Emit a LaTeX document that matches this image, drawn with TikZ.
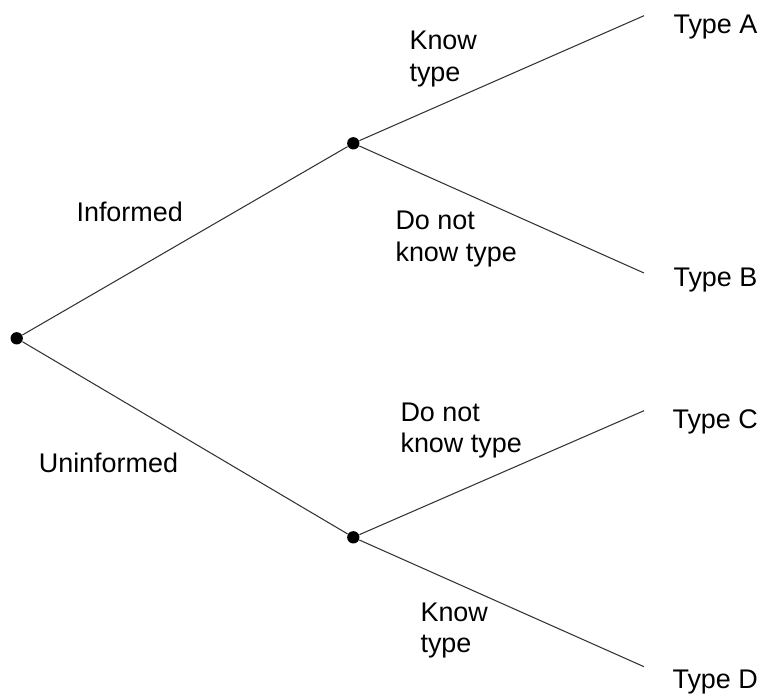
\documentclass[tikz,border=0pt]{standalone}
\usepackage{fontspec}
\setmainfont{Liberation Sans}
\begin{document}
\begin{tikzpicture}[x=0.03cm, y=-0.03cm, line width=0.9pt,
  dot/.style={circle, fill=black, inner sep=0pt, minimum size=0.37cm},
  branch/.style={draw=black!80},
  lbl/.style={inner sep=0pt, align=left, font=\fontsize{23}{27}\selectfont}]

  \useasboundingbox (0,0) rectangle (765,698);

  % -- Decision points --
  \node[dot] (root) at (16.7, 338.3) {};
  \node[dot] (inf) at (353.3, 143.3) {};
  \node[dot] (uninf) at (353.3, 537.3) {};

  % -- End points --
  \coordinate (endA) at (644, 15.7);
  \coordinate (endB) at (644, 273);
  \coordinate (endC) at (644, 410.7);
  \coordinate (endD) at (644, 666.7);

  % -- Branches --
  \draw[branch] (root) -- (inf);
  \draw[branch] (root) -- (uninf);
  \draw[branch] (inf) -- (endA);
  \draw[branch] (inf) -- (endB);
  \draw[branch] (uninf) -- (endC);
  \draw[branch] (uninf) -- (endD);

  % -- Branch labels --
  \node[lbl, anchor=base west] (informed) at (76, 221.7) {Informed};
  \node[lbl, anchor=base west] (uninformed) at (38.3, 472.7) {Uninformed};
  \node[lbl, anchor=west] (knowA) at (409, 59.2) {Know\\type};
  \node[lbl, anchor=west] (notB) at (395, 239) {Do not\\know type};
  \node[lbl, anchor=west] (notC) at (400, 430.7) {Do not\\know type};
  \node[lbl, anchor=west] (knowD) at (420, 630.4) {Know\\type};

  % Outcome labels
  \node[lbl, anchor=base west] (typeA) at (673, 33) {Type A};
  \node[lbl, anchor=base west] (typeB) at (673, 286.7) {Type B};
  \node[lbl, anchor=base west] (typeC) at (672, 428.3) {Type C};
  \node[lbl, anchor=base west] (typeD) at (672, 688.3) {Type D};

\end{tikzpicture}
\end{document}
